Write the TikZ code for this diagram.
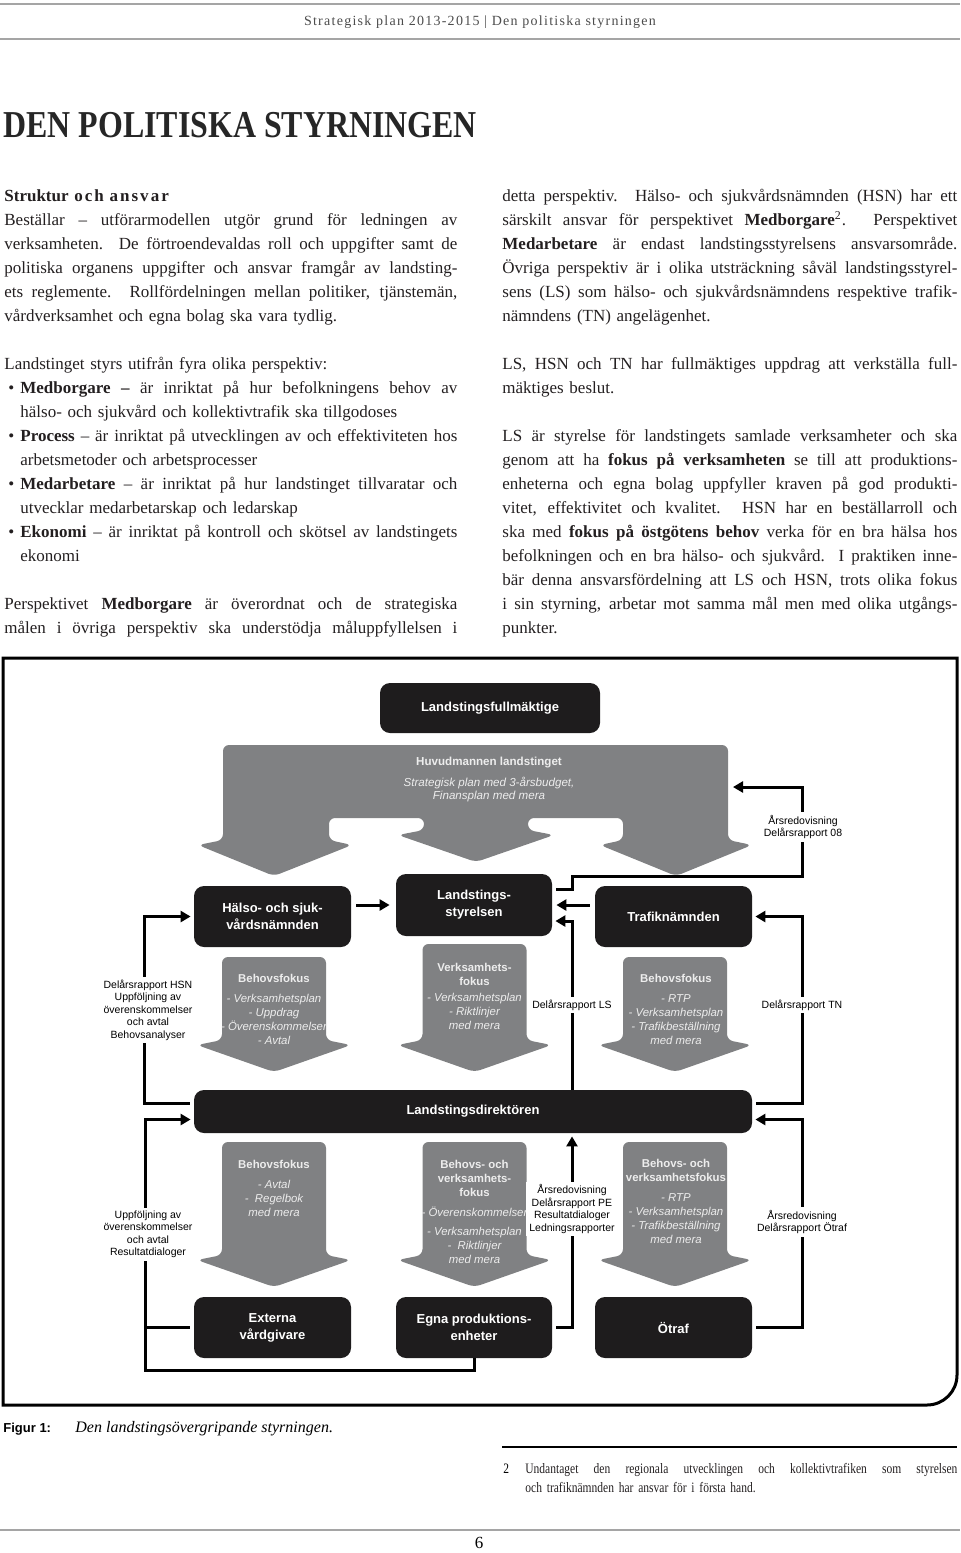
\documentclass[tikz,border=0pt]{standalone}
\usepackage{fontspec}
\setmainfont{Liberation Serif}
\setsansfont{Liberation Sans}
\newfontfamily\condserif[FakeStretch=0.84]{Liberation Serif}
\newfontfamily\footserif[FakeStretch=0.8]{Liberation Serif}
\usetikzlibrary{arrows.meta,positioning}

\definecolor{boxblack}{RGB}{30,28,29}
\definecolor{fokusgray}{RGB}{128,129,131}
\definecolor{rulegray}{RGB}{165,165,165}
\definecolor{inkgray}{RGB}{35,31,32}

\newcommand\bodyfont{\fontsize{8.5}{12}\selectfont}
\newcommand\jl[1]{\leavevmode\hbox to \hsize{\spaceskip=0pt \xspaceskip=0pt #1}}
\newcommand\bl[1]{\leavevmode\hbox to \hsize{\spaceskip=0pt \xspaceskip=0pt \hbox to 8pt{\hspace{2pt}•\hfil}#1}}
\newcommand\bc[1]{\hspace*{8pt}#1}
\newcommand\ftitle[1]{{\upshape\bfseries #1}}
\newcommand\fokusarrow[4]{\fill[fokusgray, rounded corners=3pt] (#1-52,#2) -- (#1+52,#2) -- (#1+52,#3) -- (#1+77,#3+5) -- (#1,#4) -- (#1-77,#3+5) -- (#1-52,#3) -- cycle;}

\tikzset{
  blackbox/.style={rectangle, rounded corners=5pt, fill=boxblack, text=white, align=center, inner sep=0pt,
    font=\sffamily\bfseries\fontsize{6.5}{8.5}\selectfont},
  fokustext/.style={text=white!93!black, align=center, inner sep=0pt, font=\sffamily\itshape\fontsize{5.7}{7}\selectfont},
  conn/.style={line width=1.5pt, -{Triangle[length=5pt,width=5.5pt]}, shorten >=1.5pt},
  plainline/.style={line width=1.5pt},
  sidelabel/.style={fill=white, align=center, inner sep=1.5pt, font=\sffamily\fontsize{5.25}{6.25}\selectfont},
  para/.style={anchor=base west, text width=226.5pt, align=left, inner sep=0pt, font=\bodyfont, text=inkgray}
}

\begin{document}
\begin{tikzpicture}[x=0.5pt,y=-0.5pt]
  \useasboundingbox (0,0) rectangle (960,1553);

  \draw[rulegray, line width=1pt] (0,4) -- (960,4);
  \draw[rulegray, line width=1pt] (0,39) -- (960,39);
  \node[font=\fontsize{7}{8}\selectfont, text=black!70] (head) at (480,22)
    {\addfontfeatures{LetterSpace=9}Strategisk plan 2013-2015 | Den politiska styrningen};
  \node[anchor=base west, inner sep=0pt, text=black!85, font=\condserif\bfseries\fontsize{19}{22}\selectfont] (title) at (3,137)
    {DEN POLITISKA STYRNINGEN};

  \node[para] (struktur) at (4,201) {\textbf{Struktur {\addfontfeatures{LetterSpace=12}och ansvar}}\\
    \jl{Beställar – utförarmodellen utgör grund för ledningen av}\\
    \jl{verksamheten. De förtroendevaldas roll och uppgifter samt de}\\
    \jl{politiska organens uppgifter och ansvar framgår av landsting-}\\
    \jl{ets reglemente. Rollfördelningen mellan politiker, tjänstemän,}\\
    vårdverksamhet och egna bolag ska vara tydlig.};
  \node[para] (persp) at (4,369) {Landstinget styrs utifrån fyra olika perspektiv:\\
    \bl{\textbf{Medborgare –} är inriktat på hur befolkningens behov av}\\
    \bc{hälso- och sjukvård och kollektivtrafik ska tillgodoses}\\
    \bl{\textbf{Process} – är inriktat på utvecklingen av och effektiviteten hos}\\
    \bc{arbetsmetoder och arbetsprocesser}\\
    \bl{\textbf{Medarbetare} – är inriktat på hur landstinget tillvaratar och}\\
    \bc{utvecklar medarbetarskap och ledarskap}\\
    \bl{\textbf{Ekonomi} – är inriktat på kontroll och skötsel av landstingets}\\
    \bc{ekonomi}};
  \node[para] (medb) at (4,609) {\jl{Perspektivet \textbf{Medborgare} är överordnat och de strategiska}\\
    \jl{målen i övriga perspektiv ska understödja måluppfyllelsen i}};

  \node[para, text width=227.5pt] (hsnansvar) at (502,201) {\jl{detta perspektiv. Hälso- och sjukvårdsnämnden (HSN) har ett}\\
    \jl{särskilt ansvar för perspektivet \textbf{Medborgare}\textsuperscript{2}. Perspektivet}\\
    \jl{\textbf{Medarbetare} är endast landstingsstyrelsens ansvarsområde.}\\
    \jl{Övriga perspektiv är i olika utsträckning såväl landstingsstyrel-}\\
    \jl{sens (LS) som hälso- och sjukvårdsnämndens respektive trafik-}\\
    nämndens (TN) angelägenhet.};
  \node[para, text width=227.5pt] (uppdrag) at (502,369) {\jl{LS, HSN och TN har fullmäktiges uppdrag att verkställa full-}\\
    mäktiges beslut.};
  \node[para, text width=227.5pt] (lsstyr) at (502,441) {\jl{LS är styrelse för landstingets samlade verksamheter och ska}\\
    \jl{genom att ha \textbf{fokus på verksamheten} se till att produktions-}\\
    \jl{enheterna och egna bolag uppfyller kraven på god produkti-}\\
    \jl{vitet, effektivitet och kvalitet. HSN har en beställarroll och}\\
    \jl{ska med \textbf{fokus på östgötens behov} verka för en bra hälsa hos}\\
    \jl{befolkningen och en bra hälso- och sjukvård. I praktiken inne-}\\
    \jl{bär denna ansvarsfördelning att LS och HSN, trots olika fokus}\\
    \jl{i sin styrning, arbetar mot samma mål men med olika utgångs-}\\
    punkter.};

  \draw[line width=1.5pt] (957,1000) [rounded corners=15pt] -- (957,1405) -- (500,1405) [sharp corners] -- (3,1405) -- (3,658) -- (957,658) -- cycle;

  \node[blackbox, minimum width=110pt, minimum height=25pt] (lf) at (490,708) {Landstingsfullmäktige};
  \fill[fokusgray, rounded corners=3pt] (223,745) -- (728,745) -- (728,840) -- (752,845) -- (676,876) -- (600,845) -- (623,840)
    -- (623,818) -- (528,818) -- (528,830) -- (554,835) -- (476,862) -- (398,835) -- (424,830) -- (424,818)
    -- (329,818) -- (329,840) -- (352,845) -- (274,876) -- (198,845) -- (223,840) -- cycle;
  \node[fokustext, font=\sffamily\itshape\fontsize{5.8}{6.5}\selectfont] (huvud) at (489,779)
    {\ftitle{Huvudmannen landstinget}\\[4pt] Strategisk plan med 3-årsbudget,\\ Finansplan med mera};
  \coordinate (huvudE) at (730,787);

  \node[blackbox, minimum width=78.5pt, minimum height=30.5pt] (hsn) at (272.5,916.5) {Hälso- och sjuk-\\vårdsnämnden};
  \node[blackbox, minimum width=78pt, minimum height=31pt] (ls) at (474,905) {Landstings-\\styrelsen};
  \node[blackbox, minimum width=78.5pt, minimum height=30.5pt] (tn) at (673.5,916.5) {Trafiknämnden};

  \fokusarrow{274}{957}{1040}{1072}
  \fokusarrow{474.5}{944}{1040}{1072}
  \fokusarrow{675}{957}{1040}{1072}
  \node[fokustext] (hsnfokus) at (274,1009) {\ftitle{Behovsfokus}\\[3pt] - Verksamhetsplan\\ - Uppdrag\\ - Överenskommelser\\ - Avtal};
  \node[fokustext] (lsfokus) at (474.5,996) {\ftitle{Verksamhets-}\\ \ftitle{fokus}\\[1pt] - Verksamhetsplan\\ - Riktlinjer\\ med mera};
  \node[fokustext] (tnfokus) at (676,1009) {\ftitle{Behovsfokus}\\[3pt] - RTP\\ - Verksamhetsplan\\ - Trafikbeställning\\ med mera};

  \node[blackbox, minimum width=279pt, minimum height=21.5pt] (ld) at (473,1111.5) {Landstingsdirektören};

  \fokusarrow{274}{1142}{1255}{1287}
  \fokusarrow{474.5}{1142}{1255}{1287}
  \fokusarrow{675}{1142}{1255}{1287}
  \node[fokustext] (extfokus) at (274,1188) {\ftitle{Behovsfokus}\\[3pt] - Avtal\\ -\ \ Regelbok\\ med mera};
  \node[fokustext] (egnafokus) at (474.5,1211.5) {\ftitle{Behovs- och}\\ \ftitle{verksamhets-}\\ \ftitle{fokus}\\[3pt] - Överenskommelser\\[2.5pt] - Verksamhetsplan\\ -\ \ Riktlinjer\\ med mera};
  \node[fokustext] (otraffokus) at (676,1201.5) {\ftitle{Behovs- och}\\ \ftitle{verksamhetsfokus}\\[3pt] - RTP\\ - Verksamhetsplan\\ - Trafikbeställning\\ med mera};

  \node[blackbox, minimum width=78.5pt, minimum height=30.5pt] (extv) at (272.5,1327.5) {Externa\\vårdgivare};
  \node[blackbox, minimum width=78pt, minimum height=30.5pt] (egna) at (474,1327.5) {Egna produktions-\\enheter};
  \node[blackbox, minimum width=78.5pt, minimum height=30.5pt] (otraf) at (673.5,1327.5) {Ötraf};

  \draw[conn, shorten <=2.5pt, shorten >=3pt] (hsn.east |- ls.west) -- (ls.west);
  \draw[conn, shorten <=2.5pt, shorten >=2pt] (tn.west |- ls.east) -- (ls.east);
  \draw[conn, shorten <=2pt] ([yshift=8pt]ls.east) -- ++(20,0) -- ++(0,-13) -- ++(230,0) |- (huvudE);
  \draw[conn] ([xshift=49.5pt]ld.north) |- ([yshift=-8pt]ls.east);
  \draw[conn, shorten <=2pt] ([yshift=4pt]ld.west) -- ++(-49,0) |- (hsn.west);
  \draw[conn, shorten <=2pt] ([yshift=4pt]ld.east) -- ++(50,0) |- (tn.east);
  \draw[conn] (egna.south) -- ++(0,12) -- ++(-329,0) |- ([yshift=-4pt]ld.west);
  \draw[plainline, shorten <=2pt] (extv.west) -- ++(-49,0);
  \draw[conn, shorten <=2pt] (egna.east) -| ([xshift=49.5pt]ld.south);
  \draw[conn, shorten <=2pt] (otraf.east) -- ++(50,0) |- ([yshift=-4pt]ld.east);

  \node[sidelabel] (hsnrapp) at (148,1010) {Delårsrapport HSN\\Uppföljning av\\överenskommelser\\och avtal\\Behovsanalyser};
  \node[sidelabel] (extrapp) at (148,1234.5) {Uppföljning av\\överenskommelser\\och avtal\\Resultatdialoger};
  \node[sidelabel] (lsrapp) at (572,1005) {Delårsrapport LS};
  \node[sidelabel] (lfrapp) at (803,827) {Årsredovisning\\Delårsrapport 08};
  \node[sidelabel] (tnrapp) at (802,1005) {Delårsrapport TN};
  \node[sidelabel] (perapp) at (572,1209) {Årsredovisning\\Delårsrapport PE\\Resultatdialoger\\Ledningsrapporter};
  \node[sidelabel] (otrafrapp) at (802,1222) {Årsredovisning\\Delårsrapport Ötraf};

  \node[anchor=base west, inner sep=0pt, font=\sffamily\bfseries\fontsize{6.5}{8}\selectfont] (figlbl) at (3,1432) {Figur 1:};
  \node[anchor=base west, inner sep=0pt, font=\itshape\fontsize{8}{9}\selectfont] (figcap) at (75,1432) {Den landstingsövergripande styrningen.};

  \draw[line width=0.6pt] (502,1447) -- (957,1447);
  \node[anchor=base west, inner sep=0pt, font=\footserif\fontsize{7.2}{9.5}\selectfont] (fnnum) at (503,1473) {2};
  \node[para, text width=216pt, font=\footserif\fontsize{7.2}{9.5}\selectfont] (fntext) at (525,1473)
    {\jl{Undantaget den regionala utvecklingen och kollektivtrafiken som styrelsen}\\
    och trafiknämnden har ansvar för i första hand.};

  \draw[rulegray, line width=1pt] (0,1530) -- (960,1530);
  \node[font=\fontsize{8.5}{10}\selectfont, inner sep=1pt] (pagenum) at (479,1543) {6};
\end{tikzpicture}
\end{document}
